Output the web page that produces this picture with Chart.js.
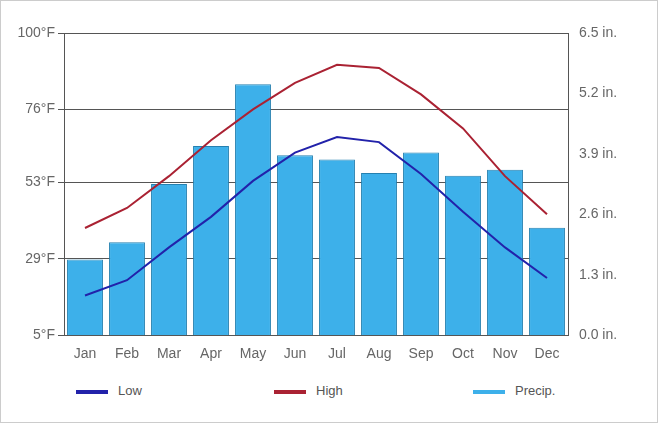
<!DOCTYPE html>
<html>
<head>
<meta charset="utf-8">
<script src="https://cdn.jsdelivr.net/npm/chart.js@4"></script>
<style>
  body { margin: 0; background: #fff; font-family: Arial, "Liberation Sans", sans-serif; }
  #wrap { position: relative; width: 656px; height: 421px; border: 1px solid #ccc; }
  #c { position: absolute; left: 0; top: 20px; }
  .leg { position: absolute; top: 382px; font-size: 13px; color: #555; }
  .leg span { display: inline-block; width: 32px; height: 4px; vertical-align: middle; margin-right: 10px; }
</style>
</head>
<body>
<div id="wrap">
  <canvas id="c" width="656" height="345"></canvas>
  <div class="leg" style="left:75px"><span style="background:#2222aa"></span>Low</div>
  <div class="leg" style="left:273px"><span style="background:#aa2233"></span>High</div>
  <div class="leg" style="left:472px"><span style="background:#3db0ea"></span>Precip.</div>
</div>
<script>
// datos
const meses = ["Jan","Feb","Mar","Apr","May","Jun","Jul","Aug","Sep","Oct","Nov","Dec"];
const bajas = [17.5, 22.3, 32.6, 42.2, 53.5, 62.4, 67.3, 65.7, 55.7, 43.8, 32.6, 23];
const altas = [38.7, 45, 55, 66.3, 76, 84.3, 90, 89, 80.7, 70, 55, 43];
const lluvia = [1.63, 2.0, 3.25, 4.07, 5.4, 3.87, 3.78, 3.49, 3.93, 3.43, 3.56, 2.31];
const ticksF = [5, 29, 53, 76, 100];
const ticksIn = [0, 1.3, 2.6, 3.9, 5.2, 6.5];

const ctx = document.getElementById("c");
new Chart(ctx, {
  data: {
    labels: meses,
    datasets: [
      { type: "line", label: "Low", data: bajas, yAxisID: "yF", borderColor: "#2222aa", borderWidth: 2, pointRadius: 0, tension: 0, order: 1 },
      { type: "line", label: "High", data: altas, yAxisID: "yF", borderColor: "#aa2233", borderWidth: 2, pointRadius: 0, tension: 0, order: 2 },
      { type: "bar", label: "Precip.", data: lluvia, yAxisID: "yIn", backgroundColor: "#3db0ea", borderColor: "#2580b0", borderWidth: 1, categoryPercentage: 0.9, barPercentage: 0.95, order: 3 }
    ]
  },
  options: {
    responsive: false,
    animation: false,
    layout: { padding: { left: 0, right: 0, top: 12, bottom: 0 } },
    plugins: { legend: { display: false }, tooltip: { enabled: false } },
    scales: {
      x: {
        grid: { display: false },
        border: { color: "#555" },
        ticks: { color: "#666", font: { size: 14 } }
      },
      yF: {
        position: "left", min: 5, max: 100,
        afterBuildTicks: (ax) => { ax.ticks = ticksF.map(v => ({ value: v })); },
        afterFit: (ax) => { ax.width = 63; },
        grid: { color: "#555", drawTicks: true, tickLength: 6 },
        border: { color: "#555" },
        ticks: { color: "#666", font: { size: 14 }, callback: (v) => v + "°F" }
      },
      yIn: {
        position: "right", min: 0, max: 6.5,
        afterBuildTicks: (ax) => { ax.ticks = ticksIn.map(v => ({ value: v })); },
        afterFit: (ax) => { ax.width = 89; },
        grid: { display: false },
        border: { color: "#555" },
        ticks: { color: "#666", font: { size: 14 }, callback: (v) => v.toFixed(1) + " in." }
      }
    }
  }
});
</script>
</body>
</html>
